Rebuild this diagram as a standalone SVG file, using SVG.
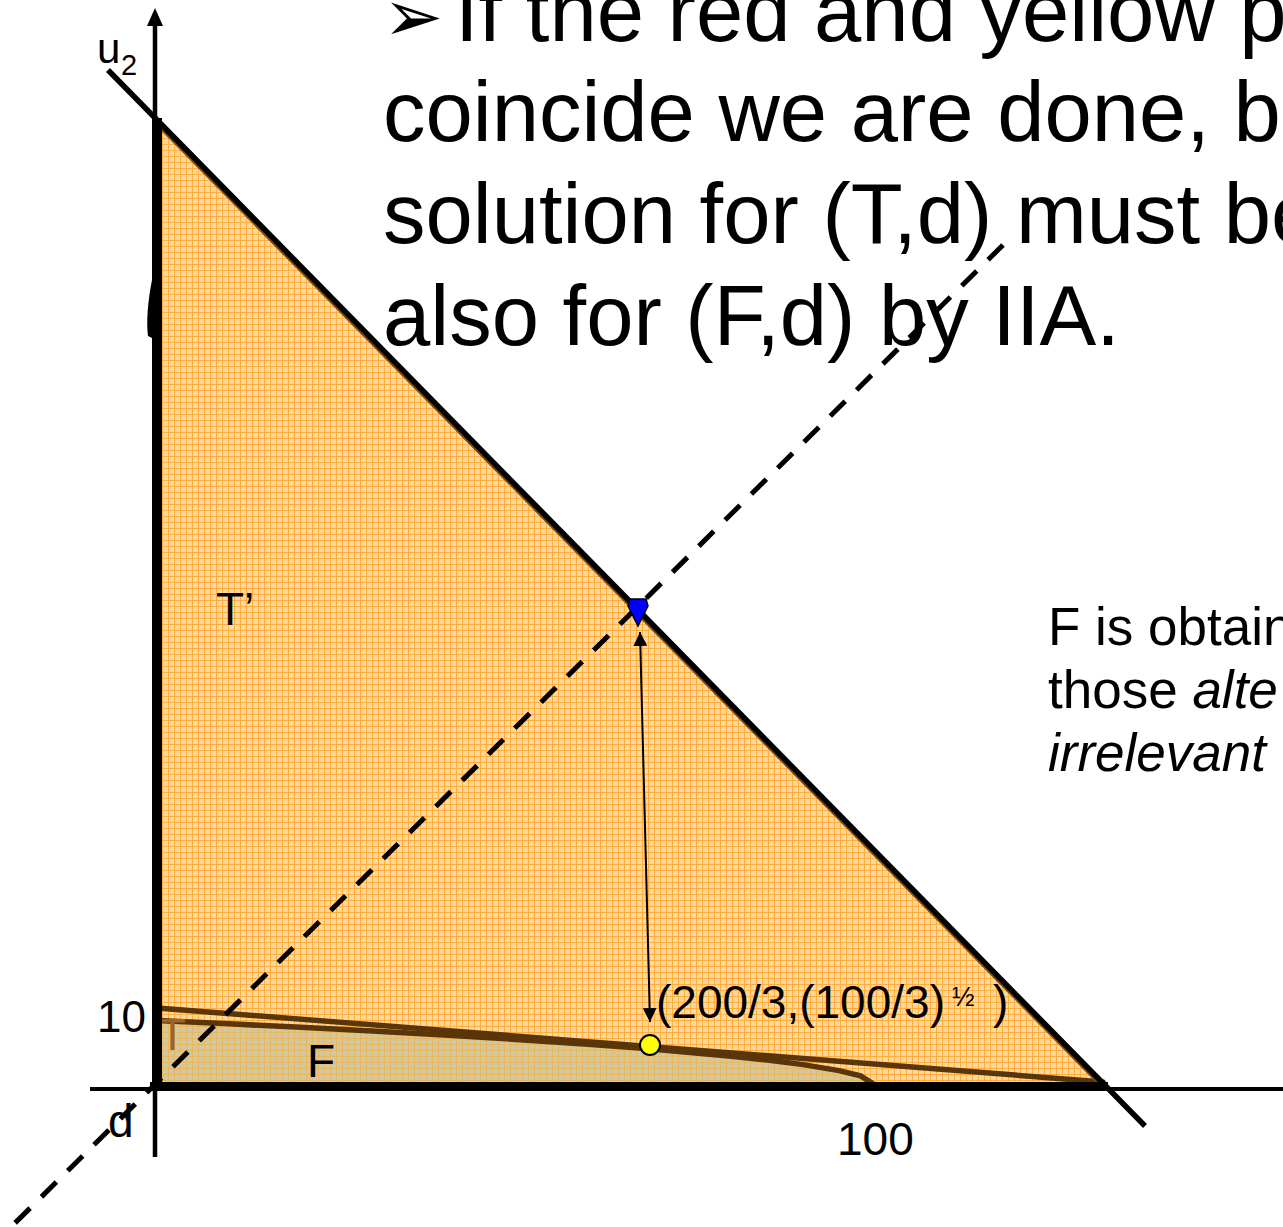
<svg xmlns="http://www.w3.org/2000/svg" width="1283" height="1227" viewBox="0 0 1283 1227">
<style>
.lbl{font-family:"Liberation Sans",Arial,sans-serif;fill:#000}
.big{font-family:"Liberation Sans",Arial,sans-serif;font-size:85px;fill:#000}
.side{font-family:"Liberation Sans",Arial,sans-serif;font-size:53px;fill:#000}
.brown{fill:none;stroke:#5A3508;stroke-width:5.5;stroke-linecap:round}
.axis{stroke:#000;fill:none}
</style>
<defs>
<pattern id="gridT" width="6" height="6" patternUnits="userSpaceOnUse">
<rect width="6" height="6" fill="#FFD79F"/>
<path d="M0,0.5H6M0.5,0V6" stroke="#FFAE3C" stroke-width="1"/>
</pattern>
<pattern id="gridF" width="6" height="6" patternUnits="userSpaceOnUse">
<rect width="6" height="6" fill="#CFC9A3"/>
<path d="M0,0.5H6M0.5,0V6" stroke="#EEB454" stroke-width="1" stroke-opacity="0.8"/>
</pattern>
<marker id="ah" viewBox="0 0 14 14" refX="14" refY="7" markerWidth="14" markerHeight="14" markerUnits="userSpaceOnUse" orient="auto-start-reverse">
<path d="M0,0L14,7L0,14z" fill="#000"/>
</marker>
</defs>
<rect width="1283" height="1227" fill="#fff"/>

<g id="region-Tprime">
<polygon points="157,117 1107,1084 157,1086" fill="url(#gridT)"/>
</g>
<g id="region-F">
<polygon points="157,1020.5 228.8,1023.8 300.6,1027.3 372.4,1031 444.2,1035 516,1039.4 587.8,1044.2 635.7,1047.8 659.6,1049.7 731.4,1056.2 767.3,1060 803.2,1064.6 839.1,1070.6 860.6,1075.9 875,1085 157,1086" fill="url(#gridF)"/>
<polyline class="brown" points="157,1020.5 228.8,1023.8 300.6,1027.3 372.4,1031 444.2,1035 516,1039.4 587.8,1044.2 635.7,1047.8 659.6,1049.7 731.4,1056.2 767.3,1060 803.2,1064.6 839.1,1070.6 860.6,1075.9 872,1083"/>
</g>
<g id="frontier-T">
<line class="brown" x1="157" y1="1008" x2="1103" y2="1082"/>
<text class="lbl" x="159" y="1050" font-size="44" style="fill:#9A6428">T</text>
</g>
<g id="hypotenuse">
<line x1="159" y1="125" x2="1101" y2="1084" stroke="#7A4A12" stroke-width="5"/>
<line x1="108" y1="70" x2="1145" y2="1126" stroke="#000" stroke-width="5.5"/>
</g>

<g id="connectors">
<line x1="1003" y1="245" x2="10" y2="1228" stroke="#000" stroke-width="5" stroke-dasharray="21 16"/>
<line x1="640" y1="632" x2="650" y2="1022" stroke="#000" stroke-width="2" marker-start="url(#ah)" marker-end="url(#ah)"/>
</g>

<g id="labels-axes">
<text class="lbl" x="97" y="63" font-size="42">u</text>
<text class="lbl" x="121" y="75" font-size="29">2</text>
<text class="lbl" x="97" y="1032" font-size="44">10</text>
<text class="lbl" x="108" y="1137" font-size="46">d</text>
<text class="lbl" x="837" y="1155" font-size="46">100</text>
</g>

<g id="axes">
<line class="axis" x1="90" y1="1089" x2="1283" y2="1089" stroke-width="4"/>
<line class="axis" x1="155" y1="22" x2="155" y2="1157" stroke-width="4.5"/>
<polygon points="147,26 155,8 163,26" fill="#000"/>
<rect x="152" y="118" width="10" height="970" fill="#000"/>
<path d="M152,280 C148,300 146,322 148,336 L152,338 Z" fill="#000"/>
<rect x="150" y="1082" width="958" height="9" fill="#000"/>
</g>

<g id="point-blue">
<polygon points="630,599 646,599 648,606 638,626 628,606" fill="#0000FF" stroke="#000" stroke-width="1.5"/>
</g>
<g id="point-yellow">
<circle cx="650" cy="1045" r="10" fill="#FFFF00" stroke="#000" stroke-width="2"/>
</g>

<g id="labels">
<text class="lbl" x="216" y="625" font-size="46">T’</text>
<text class="lbl" x="307" y="1077" font-size="46">F</text>
<text class="lbl" x="656" y="1018" font-size="46">(200/3,(100/3)</text>
<text class="lbl" x="952" y="1006" font-size="27">½</text>
<text class="lbl" x="993" y="1018" font-size="46">)</text>
</g>

<g id="text-main">
<text class="big" x="383" y="41"><tspan font-family="DejaVu Sans" font-size="72">➢</tspan><tspan x="455">If the red and yellow p</tspan></text>
<text class="big" x="383" y="141">coincide we are done, b</text>
<text class="big" x="383" y="243">solution for (T,d) must be</text>
<text class="big" x="383" y="345">also for (F,d) by IIA.</text>
</g>

<g id="text-side">
<text class="side" x="1048" y="645">F is obtain</text>
<text class="side" x="1048" y="708">those <tspan font-style="italic">alte</tspan></text>
<text class="side" x="1048" y="771" font-style="italic">irrelevant</text>
</g>
</svg>
